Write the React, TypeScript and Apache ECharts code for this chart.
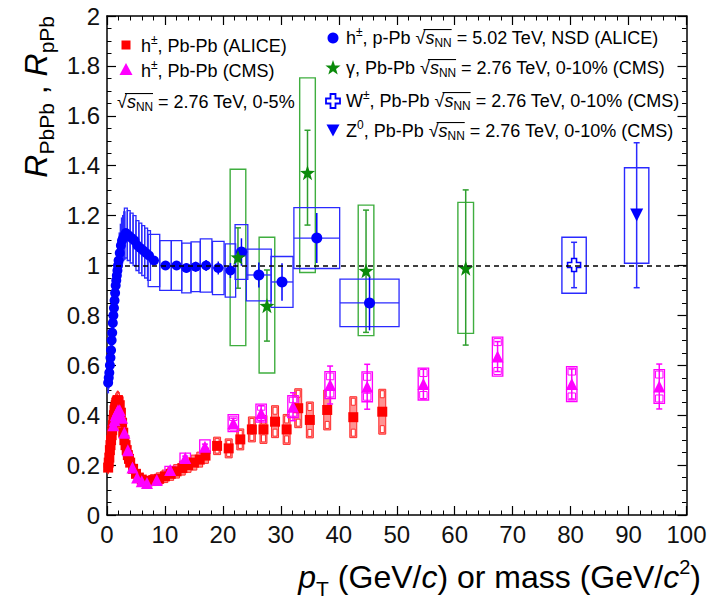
import React, { useEffect, useRef } from 'react';
import * as echarts from 'echarts';

const FONT = '"Liberation Sans", Arial, Helvetica, sans-serif';

// h± p-Pb ALICE: [pT, R, stat, sys, halfBin]
const pPbALICE: number[][] = [
  [0.2, 0.53, 0.005, 0.04, 0.05], [0.3, 0.55, 0.005, 0.04, 0.05], [0.4, 0.57, 0.005, 0.04, 0.05],
  [0.5, 0.6, 0.005, 0.04, 0.05], [0.6, 0.63, 0.005, 0.045, 0.05], [0.7, 0.66, 0.005, 0.045, 0.05],
  [0.8, 0.7, 0.005, 0.05, 0.05], [0.9, 0.73, 0.005, 0.05, 0.05], [1.0, 0.77, 0.005, 0.055, 0.05],
  [1.1, 0.8, 0.005, 0.055, 0.05], [1.2, 0.83, 0.005, 0.06, 0.05], [1.3, 0.86, 0.005, 0.06, 0.05],
  [1.4, 0.89, 0.005, 0.065, 0.05], [1.5, 0.92, 0.005, 0.065, 0.05], [1.6, 0.94, 0.005, 0.07, 0.05],
  [1.7, 0.96, 0.005, 0.07, 0.05], [1.8, 0.98, 0.005, 0.075, 0.05], [1.9, 1.0, 0.005, 0.075, 0.05],
  [2.0, 1.02, 0.005, 0.08, 0.1], [2.2, 1.05, 0.005, 0.08, 0.1], [2.4, 1.08, 0.005, 0.085, 0.1],
  [2.6, 1.1, 0.005, 0.09, 0.1], [2.8, 1.11, 0.005, 0.09, 0.1], [3.0, 1.12, 0.005, 0.095, 0.1],
  [3.25, 1.13, 0.006, 0.1, 0.25], [3.75, 1.12, 0.006, 0.1, 0.25], [4.25, 1.11, 0.007, 0.1, 0.25],
  [4.75, 1.1, 0.008, 0.1, 0.25], [5.25, 1.08, 0.008, 0.1, 0.25], [5.75, 1.07, 0.009, 0.1, 0.25],
  [6.25, 1.06, 0.01, 0.1, 0.25], [6.75, 1.05, 0.01, 0.1, 0.25], [7.25, 1.04, 0.011, 0.1, 0.25],
  [8.1, 1.02, 0.012, 0.105, 1.0], [10.1, 1.0, 0.014, 0.1, 1.0], [12.0, 1.0, 0.016, 0.1, 0.9],
  [13.7, 0.99, 0.018, 0.1, 0.8], [15.3, 0.995, 0.02, 0.1, 0.8], [17.1, 1.0, 0.022, 0.107, 1.0],
  [19.2, 0.99, 0.026, 0.107, 1.0], [21.3, 0.98, 0.03, 0.107, 0.9], [23.2, 1.054, 0.055, 0.11, 1.1],
  [26.2, 0.962, 0.05, 0.104, 2.15], [30.2, 0.934, 0.075, 0.102, 1.9], [36.2, 1.11, 0.1, 0.122, 3.95],
  [45.3, 0.85, 0.11, 0.095, 5.1],
];

// h± Pb-Pb ALICE 0-5%: [pT, R, stat, sys, halfBin]
const PbPbALICE: number[][] = [
  [0.2, 0.19, 0.003, 0.025, 0.05], [0.3, 0.21, 0.003, 0.025, 0.05], [0.4, 0.23, 0.003, 0.025, 0.05],
  [0.5, 0.26, 0.003, 0.027, 0.05], [0.6, 0.28, 0.003, 0.028, 0.05], [0.7, 0.3, 0.003, 0.03, 0.05],
  [0.8, 0.32, 0.003, 0.031, 0.05], [0.9, 0.34, 0.003, 0.032, 0.05], [1.0, 0.36, 0.003, 0.033, 0.05],
  [1.1, 0.38, 0.003, 0.034, 0.05], [1.2, 0.4, 0.003, 0.035, 0.05], [1.3, 0.42, 0.003, 0.036, 0.05],
  [1.4, 0.43, 0.003, 0.036, 0.05], [1.5, 0.44, 0.003, 0.037, 0.05], [1.6, 0.45, 0.003, 0.037, 0.05],
  [1.7, 0.455, 0.003, 0.037, 0.05], [1.8, 0.46, 0.003, 0.037, 0.05], [1.9, 0.46, 0.003, 0.037, 0.05],
  [2.0, 0.455, 0.003, 0.037, 0.1], [2.2, 0.44, 0.003, 0.036, 0.1], [2.4, 0.41, 0.003, 0.034, 0.1],
  [2.6, 0.37, 0.003, 0.031, 0.1], [2.8, 0.33, 0.003, 0.028, 0.1], [3.0, 0.3, 0.003, 0.025, 0.1],
  [3.2, 0.28, 0.003, 0.023, 0.1], [3.4, 0.26, 0.003, 0.022, 0.1], [3.6, 0.24, 0.003, 0.02, 0.1],
  [3.8, 0.225, 0.003, 0.019, 0.1], [4.0, 0.21, 0.003, 0.018, 0.1], [4.5, 0.185, 0.003, 0.016, 0.25],
  [5.0, 0.165, 0.003, 0.015, 0.25], [5.5, 0.15, 0.003, 0.014, 0.25], [6.0, 0.142, 0.003, 0.013, 0.25],
  [6.5, 0.137, 0.003, 0.013, 0.25], [7.0, 0.135, 0.003, 0.013, 0.25], [8, 0.14, 0.003, 0.022, 0.5],
  [9, 0.145, 0.003, 0.024, 0.5], [10, 0.155, 0.004, 0.025, 0.5], [11, 0.165, 0.004, 0.026, 0.5],
  [12, 0.175, 0.005, 0.027, 0.5], [13, 0.188, 0.005, 0.028, 0.5], [14, 0.2, 0.006, 0.029, 0.5],
  [15, 0.21, 0.007, 0.03, 0.5], [16, 0.222, 0.008, 0.03, 0.5], [17, 0.238, 0.009, 0.031, 0.5],
  [19, 0.277, 0.01, 0.035, 0.6], [21, 0.267, 0.012, 0.038, 0.6], [23, 0.303, 0.015, 0.042, 0.6],
  [25, 0.343, 0.018, 0.05, 0.6], [27, 0.343, 0.02, 0.056, 0.6], [29, 0.374, 0.025, 0.064, 0.6],
  [31, 0.343, 0.028, 0.06, 0.6], [33, 0.428, 0.035, 0.078, 0.6], [35, 0.381, 0.04, 0.072, 0.6],
  [38, 0.421, 0.04, 0.08, 0.6], [42.5, 0.392, 0.05, 0.082, 0.6], [47.5, 0.414, 0.06, 0.09, 0.6],
];

// h± Pb-Pb CMS 0-5%: [pT, R, stat, sys, halfBin]
const PbPbCMS: number[][] = [
  [1.1, 0.36, 0.005, 0.03, 0.1], [1.3, 0.38, 0.005, 0.03, 0.1], [1.5, 0.4, 0.005, 0.03, 0.1],
  [1.7, 0.41, 0.005, 0.03, 0.1], [1.9, 0.42, 0.005, 0.03, 0.1], [2.2, 0.42, 0.005, 0.03, 0.2],
  [2.6, 0.39, 0.005, 0.03, 0.2], [3.0, 0.33, 0.005, 0.025, 0.2], [3.6, 0.26, 0.005, 0.02, 0.3],
  [4.4, 0.19, 0.005, 0.015, 0.4], [5.2, 0.15, 0.005, 0.012, 0.4], [6.0, 0.135, 0.005, 0.011, 0.4],
  [6.9, 0.128, 0.005, 0.01, 0.5], [8.6, 0.14, 0.005, 0.012, 0.9], [10.9, 0.18, 0.006, 0.015, 0.9],
  [13.5, 0.228, 0.008, 0.02, 0.9], [16.9, 0.274, 0.01, 0.027, 0.9], [21.8, 0.368, 0.02, 0.034, 0.9],
  [26.6, 0.408, 0.03, 0.036, 0.9], [32.1, 0.434, 0.056, 0.044, 0.9], [38.5, 0.521, 0.076, 0.054, 0.9],
  [44.9, 0.514, 0.09, 0.06, 0.9], [54.6, 0.525, 0.06, 0.064, 0.9], [67.4, 0.635, 0.06, 0.078, 0.9],
  [80.2, 0.525, 0.06, 0.07, 0.9], [95.3, 0.515, 0.09, 0.068, 0.9],
];

// [pT or mass, R, statLo, statHi, sysLo, sysHi, halfBin]
const gammaCMS: number[][] = [
  [22.6, 1.033, 0.124, 0.118, 0.354, 0.353, 1.35],
  [27.6, 0.839, 0.142, 0.143, 0.27, 0.274, 1.35],
  [34.6, 1.372, 0.21, 0.17, 0.4, 0.38, 1.35],
  [44.7, 0.979, 0.247, 0.243, 0.26, 0.263, 1.35],
  [61.9, 0.989, 0.308, 0.314, 0.261, 0.264, 1.35],
];
const wCMS: number[][] = [[80.6, 1.002, 0.091, 0.091, 0.113, 0.111, 2.1]];
const zCMS: number[][] = [[91.4, 1.202, 0.291, 0.29, 0.193, 0.19, 2.1]];

const sym = (d: number[]) => [d[0], d[1], d[2], d[2], d[3], d[3], d[4]];

let measureCtx: CanvasRenderingContext2D | null = null;
function textWidth(t: string, size: number, italic?: boolean) {
  if (!measureCtx) measureCtx = document.createElement('canvas').getContext('2d');
  measureCtx!.font = `${italic ? 'italic ' : ''}${size}px ${FONT}`;
  return measureCtx!.measureText(t).width;
}

type Seg = { t: string; s: number; it?: boolean; dy?: number; sq?: boolean; ov?: boolean };

function layout(segs: Seg[], x0: number, y0: number, color = '#000') {
  const els: any[] = [];
  let cx = x0;
  let ovStart = -1, ovEnd = -1, ovY = 0;
  for (const g of segs) {
    const w = textWidth(g.t, g.s, g.it);
    els.push({
      type: 'text', x: cx, y: y0 + (g.dy || 0), silent: true,
      style: {
        text: g.t, fontSize: g.s, fontFamily: FONT, fontStyle: g.it ? 'italic' : 'normal',
        fill: color, align: 'left', verticalAlign: 'middle', textAlign: 'left', textVerticalAlign: 'middle',
      },
    });
    if (g.sq) { ovStart = cx + w * 0.8; ovY = y0 - g.s * 0.47; }
    if (g.ov) ovEnd = cx + w;
    cx += w;
  }
  if (ovStart >= 0 && ovEnd > ovStart) {
    els.push({ type: 'line', silent: true, shape: { x1: ovStart, y1: ovY, x2: ovEnd, y2: ovY }, style: { stroke: color, lineWidth: 1.1 } });
  }
  return { els, width: cx - x0 };
}

const sqrtS = (s: number): Seg[] => [
  { t: '√', s, sq: true },
  { t: 's', s, it: true, ov: true },
  { t: 'NN', s: s * 0.66, dy: s * 0.3, ov: true },
];

function boxRenderer(cfg: { stroke: string; fill: string; lw: number; bar?: string; cap?: number; xbar?: boolean; ends?: boolean; minW?: number }) {
  return (_params: any, api: any) => {
    const x = api.value(0), y = api.value(1);
    const sLo = api.value(2), sHi = api.value(3), yLo = api.value(4), yHi = api.value(5), hw = api.value(6);
    const a = api.coord([x - hw, y + yHi]);
    const b = api.coord([x + hw, y - yLo]);
    const c = api.coord([x, y]);
    let left = a[0], w = b[0] - a[0];
    if (cfg.minW && w < cfg.minW) { left = c[0] - cfg.minW / 2; w = cfg.minW; }
    const top = a[1], h = b[1] - a[1];
    const ch: any[] = [];
    ch.push({ type: 'rect', shape: { x: left, y: top, width: w, height: h }, style: { fill: cfg.fill, stroke: cfg.stroke, lineWidth: cfg.lw } });
    if (cfg.ends && h > 16) {
      const eh = Math.min(7, h / 4);
      ch.push({ type: 'rect', shape: { x: left + 1.5, y: top + 1.5, width: w - 3, height: eh }, style: { fill: '#fff', stroke: cfg.stroke, lineWidth: 1 } });
      ch.push({ type: 'rect', shape: { x: left + 1.5, y: top + h - 1.5 - eh, width: w - 3, height: eh }, style: { fill: '#fff', stroke: cfg.stroke, lineWidth: 1 } });
    }
    if (cfg.xbar) ch.push({ type: 'line', shape: { x1: left, y1: c[1], x2: left + w, y2: c[1] }, style: { stroke: cfg.stroke, lineWidth: cfg.lw } });
    if (cfg.bar) {
      const p1 = api.coord([x, y - sLo]);
      const p2 = api.coord([x, y + sHi]);
      ch.push({ type: 'line', shape: { x1: c[0], y1: p1[1], x2: c[0], y2: p2[1] }, style: { stroke: cfg.bar, lineWidth: 1.5 } });
      if (cfg.cap) {
        ch.push({ type: 'line', shape: { x1: c[0] - cfg.cap, y1: p1[1], x2: c[0] + cfg.cap, y2: p1[1] }, style: { stroke: cfg.bar, lineWidth: 1.5 } });
        ch.push({ type: 'line', shape: { x1: c[0] - cfg.cap, y1: p2[1], x2: c[0] + cfg.cap, y2: p2[1] }, style: { stroke: cfg.bar, lineWidth: 1.5 } });
      }
    }
    return { type: 'group', children: ch };
  };
}

const STAR = 'path://M0,-10L2.35,-3.24L9.51,-3.09L3.8,1.24L5.88,8.09L0,4L-5.88,8.09L-3.8,1.24L-9.51,-3.09L-2.35,-3.24Z';
const CROSS = 'path://M-1.2,-3.2L1.2,-3.2L1.2,-1.2L3.2,-1.2L3.2,1.2L1.2,1.2L1.2,3.2L-1.2,3.2L-1.2,1.2L-3.2,1.2L-3.2,-1.2L-1.2,-1.2Z';

const BLUE = '#0000ff';
const BLUE_BOX = '#2a2aff';
const RED = '#ff0000';
const MAG = '#ff00ff';
const GREEN = '#0a8a0a';
const GREEN_BOX = '#3fae3f';

function starPoints(cx: number, cy: number, R: number, r: number) {
  const pts: number[][] = [];
  for (let i = 0; i < 10; i++) {
    const ang = -Math.PI / 2 + (i * Math.PI) / 5;
    const rad = i % 2 === 0 ? R : r;
    pts.push([cx + rad * Math.cos(ang), cy + rad * Math.sin(ang)]);
  }
  return pts;
}

function buildGraphics() {
  const els: any[] = [];
  const LS = 18;
  const sup = (t: string): Seg => ({ t, s: 12, dy: -6 });
  // left legend
  els.push({ type: 'rect', silent: true, shape: { x: 121.5, y: 40.5, width: 9, height: 9 }, style: { fill: RED } });
  els.push(...layout([{ t: 'h', s: LS }, sup('±'), { t: ', Pb-Pb (ALICE)', s: LS }], 141, 46).els);
  els.push({ type: 'polygon', silent: true, shape: { points: [[126, 63], [132.5, 75], [119.5, 75]] }, style: { fill: MAG } });
  els.push(...layout([{ t: 'h', s: LS }, sup('±'), { t: ', Pb-Pb (CMS)', s: LS }], 141, 71).els);
  els.push(...layout([...sqrtS(LS), { t: ' = 2.76 TeV, 0-5%', s: LS }], 117, 102).els);
  // right legend
  els.push({ type: 'circle', silent: true, shape: { cx: 333, cy: 38, r: 5.5 }, style: { fill: BLUE } });
  els.push(...layout([{ t: 'h', s: LS }, sup('±'), { t: ', p-Pb ', s: LS }, ...sqrtS(LS), { t: ' = 5.02 TeV, NSD (ALICE)', s: LS }], 346, 38).els);
  els.push({ type: 'polygon', silent: true, shape: { points: starPoints(333, 68, 8, 3.2) }, style: { fill: GREEN } });
  els.push(...layout([{ t: 'γ, Pb-Pb ', s: LS }, ...sqrtS(LS), { t: ' = 2.76 TeV, 0-10% (CMS)', s: LS }], 346, 68).els);
  els.push({
    type: 'polygon', silent: true,
    shape: { points: [[-2.5, -7], [2.5, -7], [2.5, -2.5], [7, -2.5], [7, 2.5], [2.5, 2.5], [2.5, 7], [-2.5, 7], [-2.5, 2.5], [-7, 2.5], [-7, -2.5], [-2.5, -2.5]].map((p) => [p[0] + 333, p[1] + 101]) },
    style: { fill: '#fff', stroke: BLUE, lineWidth: 1.8 },
  });
  els.push(...layout([{ t: 'W', s: LS }, sup('±'), { t: ', Pb-Pb ', s: LS }, ...sqrtS(LS), { t: ' = 2.76 TeV, 0-10% (CMS)', s: LS }], 346, 101).els);
  els.push({ type: 'polygon', silent: true, shape: { points: [[326.5, 124.5], [339.5, 124.5], [333, 136.5]] }, style: { fill: BLUE } });
  els.push(...layout([{ t: 'Z', s: LS }, sup('0'), { t: ', Pb-Pb ', s: LS }, ...sqrtS(LS), { t: ' = 2.76 TeV, 0-10% (CMS)', s: LS }], 346, 131).els);

  // x title
  const XS = 32;
  const xSegs: Seg[] = [
    { t: 'p', s: XS, it: true }, { t: 'T', s: 21, dy: 11 }, { t: ' (GeV/', s: XS }, { t: 'c', s: XS, it: true },
    { t: ') or mass (GeV/', s: XS }, { t: 'c', s: XS, it: true }, { t: '2', s: 20, dy: -10 }, { t: ')', s: XS },
  ];
  const xw = layout(xSegs, 0, 0).width;
  els.push(...layout(xSegs, 701 - xw, 577).els);

  // y title (rotated)
  const YS = 32;
  const ySegs: Seg[] = [
    { t: 'R', s: YS, it: true }, { t: 'PbPb', s: 21, dy: 10 }, { t: ' , ', s: YS },
    { t: 'R', s: YS, it: true }, { t: 'pPb', s: 21, dy: 10 },
  ];
  const yl = layout(ySegs, 0, 0);
  els.push({ type: 'group', x: 36, y: 16 + yl.width, rotation: Math.PI / 2, silent: true, children: yl.els });
  return els;
}

const axisLineCommon = { show: true, onZero: false, lineStyle: { color: '#000', width: 1.5 } };

export default function App() {
  const ref = useRef<HTMLDivElement>(null);
  useEffect(() => {
    if (!ref.current) return;
    const chart = echarts.init(ref.current, null, { renderer: 'svg' });
    const xCommon = {
      type: 'value', min: 0, max: 100, interval: 10,
      axisLine: axisLineCommon,
      axisTick: { show: true, inside: true, length: 9, lineStyle: { color: '#000', width: 1.2 } },
      minorTick: { show: true, splitNumber: 5, length: 4.5, lineStyle: { color: '#000', width: 1 } },
      splitLine: { show: false }, minorSplitLine: { show: false },
    };
    const yCommon = {
      type: 'value', min: 0, max: 2, interval: 0.2,
      axisLine: axisLineCommon,
      axisTick: { show: true, inside: true, length: 9, lineStyle: { color: '#000', width: 1.2 } },
      minorTick: { show: true, splitNumber: 4, length: 4.5, lineStyle: { color: '#000', width: 1 } },
      splitLine: { show: false }, minorSplitLine: { show: false },
    };
    const labelStyle = { fontSize: 24, color: '#111', fontFamily: FONT };
    const option: any = {
      animation: false,
      backgroundColor: '#fff',
      textStyle: { fontFamily: FONT },
      grid: { left: 107, right: 24.5, top: 16, bottom: 85, containLabel: false },
      xAxis: [
        { ...xCommon, position: 'bottom', axisLabel: { ...labelStyle, margin: 7 } },
        { ...xCommon, position: 'top', axisLabel: { show: false } },
      ],
      yAxis: [
        { ...yCommon, position: 'left', axisLabel: { ...labelStyle, margin: 7 } },
        { ...yCommon, position: 'right', axisLabel: { show: false } },
      ],
      series: [
        {
          type: 'custom', name: 'ALICE PbPb sys', clip: true, data: PbPbALICE.map(sym),
          renderItem: boxRenderer({ stroke: '#ff2a2a', fill: 'rgba(255,40,40,0.5)', lw: 1, ends: true }),
        },
        {
          type: 'scatter', name: 'h± Pb-Pb (ALICE)', symbol: 'rect', symbolSize: 10,
          data: PbPbALICE.map((d) => [d[0], d[1]]), itemStyle: { color: RED, opacity: 1 },
        },
        {
          type: 'custom', name: 'CMS PbPb sys', clip: true, data: PbPbCMS.map(sym),
          renderItem: boxRenderer({ stroke: MAG, fill: 'none', lw: 1.3, ends: true, bar: MAG, cap: 3 }),
        },
        {
          type: 'scatter', name: 'h± Pb-Pb (CMS)', symbol: 'triangle', symbolSize: 12,
          data: PbPbCMS.map((d) => [d[0], d[1]]), itemStyle: { color: MAG, opacity: 1 },
        },
        {
          type: 'custom', name: 'gamma sys', clip: true, data: gammaCMS,
          renderItem: boxRenderer({ stroke: GREEN_BOX, fill: 'none', lw: 1.4, bar: '#2f9f2f', cap: 3 }),
        },
        {
          type: 'custom', name: 'pPb sys', clip: true, data: pPbALICE.map(sym),
          renderItem: boxRenderer({ stroke: BLUE_BOX, fill: 'none', lw: 1.3, bar: BLUE, xbar: true }),
        },
        {
          type: 'scatter', name: 'h± p-Pb (ALICE)', symbol: 'circle',
          symbolSize: (v: number[]) => (v[0] > 22 ? 11 : 10),
          data: pPbALICE.map((d) => [d[0], d[1]]), itemStyle: { color: BLUE, opacity: 1 },
        },
        {
          type: 'scatter', name: 'γ Pb-Pb (CMS)', symbol: STAR, symbolSize: 15,
          data: gammaCMS.map((d) => [d[0], d[1]]), itemStyle: { color: GREEN, opacity: 1 },
        },
        {
          type: 'custom', name: 'W sys', clip: true, data: wCMS,
          renderItem: boxRenderer({ stroke: BLUE_BOX, fill: 'none', lw: 1.4, bar: BLUE_BOX, cap: 3 }),
        },
        {
          type: 'scatter', name: 'W± Pb-Pb (CMS)', symbol: CROSS, symbolSize: 13,
          data: wCMS.map((d) => [d[0], d[1]]), itemStyle: { color: '#fff', borderColor: BLUE, borderWidth: 1.6, opacity: 1 },
        },
        {
          type: 'custom', name: 'Z sys', clip: true, data: zCMS,
          renderItem: boxRenderer({ stroke: BLUE_BOX, fill: 'none', lw: 1.4, bar: BLUE_BOX, cap: 3 }),
        },
        {
          type: 'scatter', name: 'Z0 Pb-Pb (CMS)', symbol: 'triangle', symbolRotate: 180, symbolSize: 13,
          data: zCMS.map((d) => [d[0], d[1]]), itemStyle: { color: BLUE, opacity: 1 },
          markLine: {
            silent: true, symbol: 'none', label: { show: false },
            lineStyle: { color: '#000', width: 1.5, type: [5, 4] },
            data: [{ yAxis: 1 }],
          },
        },
      ],
      graphic: { elements: buildGraphics() },
    };
    chart.setOption(option);
    return () => chart.dispose();
  }, []);
  return <div ref={ref} style={{ position: 'fixed', left: 0, top: 0, width: 711, height: 600, background: '#fff' }} />;
}
